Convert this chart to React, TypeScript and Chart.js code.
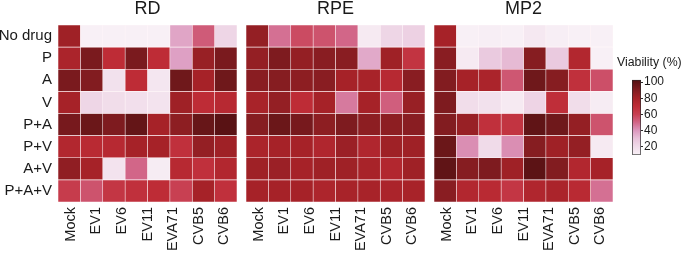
import { useEffect, useRef } from 'react';
import { Chart, registerables } from 'chart.js';

Chart.register(...registerables);

// Drug treatments (rows) and virus infections (column labels)
const rowLabels = ['No drug', 'P', 'A', 'V', 'P+A', 'P+V', 'A+V', 'P+A+V'];
const colLabels = ['Mock', 'EV1', 'EV6', 'EV11', 'EVA71', 'CVB5', 'CVB6'];

// Cell viability (%) per treatment row
const rdValues = [
  [82, 9, 9, 8, 8, 37, 53, 22],
  [78, 92, 70, 92, 70, 38, 84, 92],
  [92, 90, 17, 70, 15, 95, 80, 95],
  [80, 22, 19, 18, 16, 82, 70, 73],
  [93, 96, 91, 98, 80, 87, 97, 101],
  [75, 72, 73, 80, 80, 68, 85, 82],
  [86, 80, 16, 50, 12, 73, 68, 75],
  [62, 55, 65, 68, 70, 60, 80, 68],
];
const rpeValues = [
  [85, 48, 57, 55, 50, 13, 22, 24],
  [85, 91, 85, 88, 88, 36, 82, 66],
  [88, 89, 87, 88, 80, 79, 73, 88],
  [79, 85, 70, 80, 46, 80, 52, 84],
  [89, 96, 93, 87, 91, 87, 87, 88],
  [78, 80, 80, 76, 83, 76, 82, 82],
  [82, 83, 80, 82, 82, 79, 75, 82],
  [80, 80, 80, 77, 79, 79, 78, 79],
];
const mp2Values = [
  [80, 10, 11, 10, 14, 11, 10, 9],
  [88, 13, 27, 32, 89, 27, 75, 10],
  [90, 80, 78, 54, 95, 89, 68, 56],
  [91, 19, 17, 13, 23, 69, 19, 12],
  [90, 84, 68, 66, 99, 95, 85, 55],
  [96, 42, 20, 42, 89, 82, 85, 13],
  [99, 89, 91, 82, 100, 90, 75, 80],
  [88, 75, 72, 65, 76, 78, 72, 48],
];

const colorbarTicks = [20, 40, 60, 80, 100];
const colorbarMin = 10;
const colorbarMax = 103;

// White -> pink -> red -> dark red colour map
const colorMap: [number, [number, number, number]][] = [
  [10, [248, 240, 246]],
  [20, [240, 219, 233]],
  [30, [232, 194, 218]],
  [40, [220, 152, 190]],
  [50, [210, 102, 136]],
  [60, [200, 64, 82]],
  [70, [190, 44, 54]],
  [80, [166, 34, 40]],
  [90, [130, 28, 32]],
  [100, [92, 19, 21]],
  [103, [82, 16, 18]],
];

function colorFor(v: number): string {
  const s = colorMap;
  if (v <= s[0][0]) return `rgb(${s[0][1].join(',')})`;
  for (let i = 1; i < s.length; i++) {
    if (v <= s[i][0]) {
      const [v0, c0] = s[i - 1];
      const [v1, c1] = s[i];
      const t = (v - v0) / (v1 - v0);
      const c = c0.map((a, k) => Math.round(a + (c1[k] - a) * t));
      return `rgb(${c.join(',')})`;
    }
  }
  return `rgb(${s[s.length - 1][1].join(',')})`;
}

const FONT = "'Liberation Sans', Arial, Helvetica, sans-serif";
const TEXT = '#1a1a1a';
Chart.defaults.font.family = FONT;
Chart.defaults.color = TEXT;

type PanelProps = {
  title: string;
  values: number[][];
  showRows: boolean;
  left: number;
  width: number;
};

function HeatmapPanel({ title, values, showRows, left, width }: PanelProps) {
  const ref = useRef<HTMLCanvasElement>(null);
  useEffect(() => {
    if (!ref.current) return;
    const nCols = values[0].length;
    const datasets = Array.from({ length: nCols }, (_, c) => ({
      data: rowLabels.map(() => [c, c + 1] as [number, number]),
      backgroundColor: rowLabels.map((_, r) => colorFor(values[r][c])),
      borderColor: 'rgba(255,236,240,0.35)',
      borderWidth: 0.6,
      borderSkipped: false as const,
      barPercentage: 1,
      categoryPercentage: 1,
      grouped: false,
    }));
    const chart = new Chart(ref.current, {
      type: 'bar',
      data: { labels: rowLabels, datasets },
      options: {
        indexAxis: 'y',
        animation: false,
        responsive: false,
        events: [],
        layout: { padding: 0 },
        plugins: {
          legend: { display: false },
          tooltip: { enabled: false },
          title: {
            display: true,
            text: title,
            fullSize: false,
            color: TEXT,
            font: { size: 18, weight: 'normal', lineHeight: 1 },
            padding: { top: 0, bottom: 7 },
          },
        },
        scales: {
          x: { type: 'linear', min: 0, max: nCols, display: false },
          xl: {
            type: 'category',
            labels: colLabels,
            position: 'bottom',
            offset: true,
            grid: { display: false, drawTicks: false },
            border: { display: false },
            ticks: {
              autoSkip: false,
              minRotation: 90,
              maxRotation: 90,
              padding: 5,
              color: TEXT,
              font: { size: 14.5 },
            },
            afterFit: (s: any) => {
              s.height = 52;
              s.paddingLeft = 0;
              s.paddingRight = 0;
            },
          },
          y: {
            type: 'category',
            labels: rowLabels,
            offset: true,
            display: showRows,
            grid: { display: false, drawTicks: false },
            border: { display: false },
            ticks: { autoSkip: false, padding: 6, color: TEXT, font: { size: 15 } },
            afterFit: (s: any) => {
              s.width = showRows ? 58 : 0;
              s.paddingTop = 0;
              s.paddingBottom = 0;
            },
          },
        },
      } as any,
    });
    return () => chart.destroy();
  }, [title, values, showRows]);
  return (
    <canvas
      ref={ref}
      width={width}
      height={254}
      style={{ position: 'absolute', left, top: 0, width, height: 254 }}
    />
  );
}

function ColorBar() {
  const ref = useRef<HTMLCanvasElement>(null);
  useEffect(() => {
    if (!ref.current) return;
    const chart = new Chart(ref.current, {
      type: 'bar',
      data: {
        labels: [''],
        datasets: [
          {
            data: [[colorbarMin, colorbarMax]],
            yAxisID: 'y',
            barPercentage: 1,
            categoryPercentage: 1,
            borderColor: '#2a2a2a',
            borderWidth: 1,
            borderSkipped: false,
            backgroundColor: (ctx: any) => {
              const ch = ctx.chart;
              const ys = ch.scales.y;
              if (!ch.chartArea || !ys) return 'transparent';
              const g = ch.ctx.createLinearGradient(
                0,
                ys.getPixelForValue(colorbarMin),
                0,
                ys.getPixelForValue(colorbarMax)
              );
              colorMap.forEach(([v, c]) => {
                const t = (v - colorbarMin) / (colorbarMax - colorbarMin);
                g.addColorStop(Math.min(1, Math.max(0, t)), `rgb(${c.join(',')})`);
              });
              return g;
            },
          },
        ],
      },
      options: {
        animation: false,
        responsive: false,
        events: [],
        layout: { padding: 0 },
        plugins: {
          legend: { display: false },
          tooltip: { enabled: false },
          title: {
            display: true,
            text: 'Viability (%)',
            align: 'start',
            color: TEXT,
            font: { size: 12.3, weight: 'normal', lineHeight: 1.2 },
            padding: { top: 0, bottom: 10 },
          },
        },
        scales: {
          x: { type: 'category', display: false },
          yPad: {
            type: 'linear',
            position: 'left',
            display: true,
            grid: { display: false, drawTicks: false },
            border: { display: false },
            ticks: { display: false },
            afterFit: (s: any) => {
              s.width = 15;
            },
          },
          y: {
            type: 'linear',
            position: 'right',
            min: colorbarMin,
            max: colorbarMax,
            grid: { drawOnChartArea: false, drawTicks: true, tickLength: 2, color: '#2a2a2a' },
            border: { display: false },
            ticks: { padding: 1, color: TEXT, font: { size: 12 } },
            afterBuildTicks: (s: any) => {
              s.ticks = colorbarTicks.map((v) => ({ value: v }));
            },
            afterFit: (s: any) => {
              s.width = 41;
            },
          },
        },
      } as any,
    });
    return () => chart.destroy();
  }, []);
  return (
    <canvas
      ref={ref}
      width={65}
      height={108}
      style={{ position: 'absolute', left: 617, top: 55, width: 65, height: 108 }}
    />
  );
}

export default function App() {
  return (
    <div
      style={{
        position: 'fixed',
        left: 0,
        top: 0,
        width: 682,
        height: 254,
        background: '#ffffff',
        overflow: 'hidden',
      }}
    >
      <HeatmapPanel title="RD" values={rdValues} showRows left={0} width={237} />
      <HeatmapPanel title="RPE" values={rpeValues} showRows={false} left={246} width={179} />
      <HeatmapPanel title="MP2" values={mp2Values} showRows={false} left={434} width={179} />
      <ColorBar />
    </div>
  );
}
